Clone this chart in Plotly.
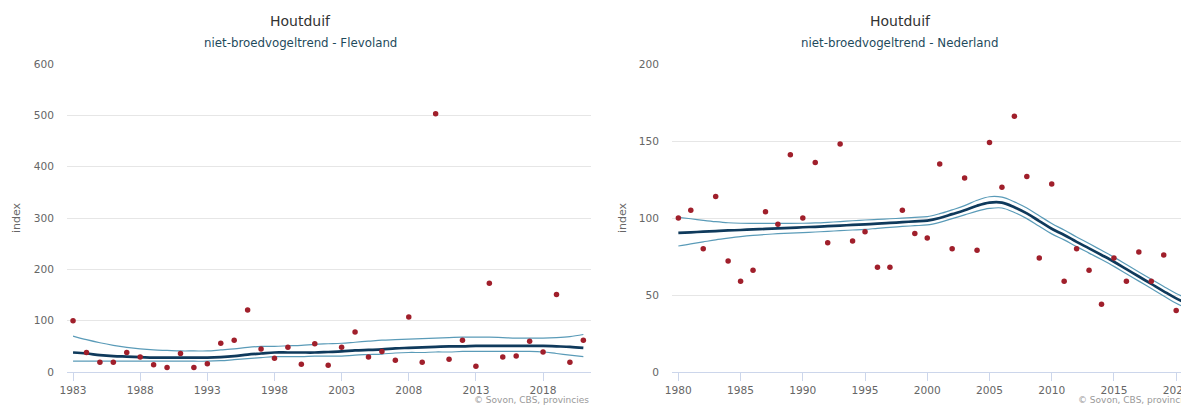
import plotly.graph_objects as go

# ---------------- data: Flevoland ----------------
flevo_years = list(range(1983, 2022))
flevo_index = [100, 38, 19, 19, 38, 29, 14, 9, 36, 9, 16, 56, 62, 121, 45, 27, 48, 15, 55,
               13, 48, 78, 29, 40, 23, 107, 19, 503, 25, 62, 11, 173, 29, 31, 60, 39, 151, 19, 62]
flevo_trend = [38, 36, 33, 31, 30, 29, 28, 28, 28, 28, 28, 29, 31, 34, 36, 38, 38, 38, 38,
               39, 40, 42, 43, 44, 46, 47, 48, 49, 50, 50, 51, 51, 51, 51, 51, 51, 50, 49, 47]
flevo_upper = [70, 63, 57, 52, 48, 45, 43, 42, 41, 41, 41, 43, 45, 48, 50, 50, 51, 52, 54,
               55, 56, 58, 60, 62, 63, 64, 65, 66, 67, 68, 68, 68, 67, 66, 66, 66, 67, 69, 73]
flevo_lower = [21, 21, 21, 21, 21, 21, 21, 21, 21, 21, 21, 22, 24, 26, 28, 30, 30, 30, 31,
               31, 31, 33, 34, 35, 37, 38, 38, 39, 39, 40, 40, 40, 40, 40, 40, 39, 36, 33, 30]
flevo_ticks = [1983, 1988, 1993, 1998, 2003, 2008, 2013, 2018]

# ---------------- data: Nederland ----------------
nl_years = list(range(1980, 2022))
nl_index = [100, 105, 80, 114, 72, 59, 66, 104, 96, 141, 100, 136, 84, 148, 85, 91, 68, 68,
            105, 90, 87, 135, 80, 126, 79, 149, 120, 166, 127, 74, 122, 59, 80, 66, 44, 74,
            59, 78, 59, 76, 40, 43]
nl_trend = [90.3, 90.7, 91.1, 91.5, 91.9, 92.2, 92.6, 92.9, 93.3, 93.6, 94.0, 94.3, 94.7, 95.1,
            95.5, 95.9, 96.3, 96.8, 97.3, 97.8, 98.3, 100, 102.5, 105, 108, 110, 110, 107, 103,
            98, 93, 89, 84.5, 80.3, 76, 71.6, 66.8, 62, 57.2, 52.4, 47.8, 44]
nl_upper = [100.4, 99.5, 98.5, 97.6, 96.9, 96.6, 96.5, 96.5, 96.5, 96.5, 96.6, 96.8, 97.2, 97.7,
            98.2, 98.7, 99.1, 99.5, 99.9, 100.4, 100.9, 102.8, 105.3, 108, 111.5, 113.8, 113.5,
            110.5, 106.5, 101.5, 96.4, 92.2, 87.7, 83.4, 79, 74.6, 69.8, 65, 60.2, 55.5, 51, 47.3]
nl_lower = [81.8, 83.2, 84.5, 85.8, 86.9, 87.9, 88.7, 89.3, 89.8, 90.2, 90.5, 90.9, 91.3, 91.8,
            92.2, 92.6, 93.3, 93.9, 94.5, 95, 95.5, 97.2, 99.6, 102, 104.5, 106.2, 106.5, 103.6,
            99.6, 94.6, 89.7, 85.8, 81.4, 77.2, 73, 68.6, 63.8, 59, 54.2, 49.4, 44.6, 40.8]
nl_ticks = [1980, 1985, 1990, 1995, 2000, 2005, 2010, 2015, 2020]

TITLE = "Houtduif"
SUB_LEFT = "niet-broedvogeltrend - Flevoland"
SUB_RIGHT = "niet-broedvogeltrend - Nederland"
CREDIT = "© Sovon, CBS, provincies"

FONT = "DejaVu Sans"
BAND = "#5a9bb8"
MAIN = "#0f3a5c"
DOT = "#a01f2b"

OFF = 8  # page body margin
W, H = 1189 - OFF, 405 - OFF
ML = 67 - OFF
MT = 64 - OFF
MB = H - (372 - OFF)
PW = W - ML
PH = H - MT - MB


def px(x):
    return (x - OFF - ML) / PW


def py(y):
    return (H - MB - (y - OFF)) / PH


fig = go.Figure()


def add_chart(xa, ya, years, idx, trend, up, lo):
    fig.add_trace(go.Scatter(x=years, y=up, mode="lines", line=dict(color=BAND, width=1.2, shape="spline"),
                             xaxis=xa, yaxis=ya, hoverinfo="skip"))
    fig.add_trace(go.Scatter(x=years, y=lo, mode="lines", line=dict(color=BAND, width=1.2, shape="spline"),
                             xaxis=xa, yaxis=ya, hoverinfo="skip"))
    fig.add_trace(go.Scatter(x=years, y=trend, mode="lines", line=dict(color=MAIN, width=2.7, shape="spline"),
                             xaxis=xa, yaxis=ya))
    fig.add_trace(go.Scatter(x=years, y=idx, mode="markers", marker=dict(color=DOT, size=5.5),
                             xaxis=xa, yaxis=ya))


add_chart("x", "y", flevo_years, flevo_index, flevo_trend, flevo_upper, flevo_lower)
add_chart("x2", "y2", nl_years, nl_index, nl_trend, nl_upper, nl_lower)

xcommon = dict(showgrid=False, zeroline=False, showline=True, linecolor="#ccd6eb", linewidth=1,
               ticks="outside", ticklen=8, tickcolor="#ccd6eb", tickwidth=1, ticklabeloverflow="allow",
               tickfont=dict(family=FONT, size=10.6, color="#666666"))
ycommon = dict(showgrid=True, gridcolor="#e6e6e6", gridwidth=1, zeroline=False, showline=False,
               ticks="", tickfont=dict(family=FONT, size=10.6, color="#666666"), ticklabelstandoff=12)

fig.update_layout(
    width=W, height=H,
    margin=dict(l=ML, r=0, t=MT, b=MB),
    paper_bgcolor="white", plot_bgcolor="white",
    showlegend=False,
    xaxis=dict(domain=[0, px(591)], range=[1982.55, 2021.57], tickvals=flevo_ticks, anchor="y", **xcommon),
    yaxis=dict(domain=[0, 1], range=[0, 600], tickvals=[0, 100, 200, 300, 400, 500, 600], anchor="x", **ycommon),
    xaxis2=dict(domain=[px(672), 1], range=[1979.49, 2021.03], tickvals=nl_ticks, anchor="y2", **xcommon),
    yaxis2=dict(domain=[0, 1], range=[0, 200], tickvals=[0, 50, 100, 150, 200], anchor="x2", **ycommon),
)

annos = []
for cx, sub in [(300, SUB_LEFT), (900, SUB_RIGHT)]:
    annos.append(dict(text=TITLE, x=px(cx), y=py(21), xref="paper", yref="paper", showarrow=False,
                      font=dict(family=FONT, size=14, color="#333333"), xanchor="center", yanchor="middle"))
    annos.append(dict(text=sub, x=px(cx), y=py(43), xref="paper", yref="paper", showarrow=False,
                      font=dict(family=FONT, size=11.8, color="#1e4a5c"), xanchor="center", yanchor="middle"))
for cx in [16, 622]:
    annos.append(dict(text="index", x=px(cx), y=py(218), xref="paper", yref="paper", showarrow=False,
                      textangle=-90, font=dict(family=FONT, size=11, color="#666666"),
                      xanchor="center", yanchor="middle"))
for rx in [591, 1195]:
    annos.append(dict(text=CREDIT, x=px(rx), y=py(400), xref="paper", yref="paper", showarrow=False,
                      font=dict(family=FONT, size=9, color="#999999"), xanchor="right", yanchor="middle"))
fig.update_layout(annotations=annos)

fig.write_html("out.html")
